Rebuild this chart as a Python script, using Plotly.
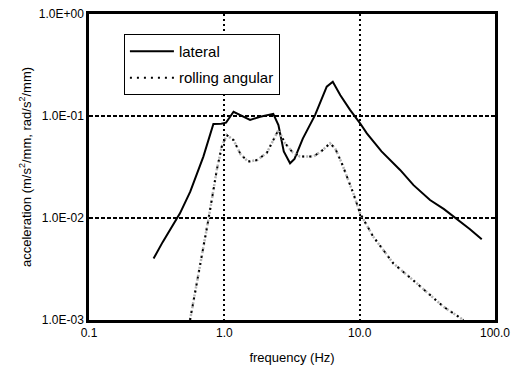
import plotly.graph_objects as go

# lateral acceleration (Hz, m/s^2/mm)
lat_f = [0.30, 0.35, 0.47, 0.56, 0.70, 0.83, 0.95, 1.03, 1.17, 1.35, 1.55, 1.84, 2.30, 2.51, 2.75, 3.06, 3.30, 3.80, 4.68, 5.71, 6.33, 7.20, 8.49, 10.07, 11.3, 14.5, 19.9, 25.0, 33.1, 42.0, 52.3, 65.0, 79.8]
lat_a = [0.0040, 0.0058, 0.0111, 0.0181, 0.040, 0.0835, 0.0840, 0.0860, 0.110, 0.100, 0.0914, 0.0984, 0.105, 0.0816, 0.045, 0.0344, 0.038, 0.060, 0.102, 0.194, 0.217, 0.160, 0.115, 0.0848, 0.0676, 0.045, 0.0296, 0.021, 0.0150, 0.0122, 0.0098, 0.0078, 0.0062]

# rolling angular acceleration (Hz, rad/s^2/mm)
rol_f = [0.558, 0.62, 0.681, 0.762, 0.82, 0.879, 0.957, 1.04, 1.17, 1.32, 1.50, 1.75, 2.06, 2.30, 2.51, 2.81, 3.20, 3.62, 4.55, 5.30, 6.04, 6.60, 7.38, 8.97, 10.07, 12.6, 17.7, 26.4, 41.6, 58.4]
rol_a = [0.0010, 0.0021, 0.0043, 0.0096, 0.0170, 0.0295, 0.050, 0.0651, 0.0580, 0.042, 0.0357, 0.037, 0.0435, 0.058, 0.0729, 0.054, 0.044, 0.040, 0.040, 0.046, 0.054, 0.048, 0.0344, 0.0175, 0.0111, 0.00656, 0.0036, 0.00229, 0.00135, 0.0010]

x_ticks = [0.1, 1, 10, 100]
x_labels = ["0.1", "1.0", "10.0", "100.0"]
y_ticks = [0.001, 0.01, 0.1, 1]
y_labels = ["1.0E-03", "1.0E-02", "1.0E-01", "1.0E+00"]

font = "Liberation Sans, Arial, sans-serif"

fig = go.Figure()
fig.add_trace(go.Scatter(x=lat_f, y=lat_a, mode="lines", name="lateral",
                         line=dict(color="black", width=2), legendgroup="a"))
fig.add_trace(go.Scatter(x=rol_f, y=rol_a, mode="lines", name="rolling angular",
                         line=dict(color="#b4b4b4", width=2.5, dash="2px,2px"),
                         legendgroup="b", showlegend=False))
fig.add_trace(go.Scatter(x=rol_f, y=rol_a, mode="lines", name="rolling angular",
                         line=dict(color="black", width=2, dash="2px,5px"),
                         legendgroup="b"))

axis_common = dict(
    type="log", showline=True, linecolor="black", linewidth=2.5, mirror=True,
    showgrid=True, gridcolor="black", gridwidth=2,
    ticks="", zeroline=False, automargin=False, ticklabeloverflow="allow",
    tickfont=dict(family=font, size=12, color="black"),
)

# page body has an 8px default margin, so the figure is offset by 8px
fig.update_layout(
    width=505, height=361,
    margin=dict(l=81, r=18, t=6, b=49),
    paper_bgcolor="white", plot_bgcolor="white",
    font=dict(family=font, color="black"),
    xaxis=dict(axis_common, range=[-1, 2], tickvals=x_ticks, ticktext=x_labels,
               griddash="2px,3px",
               title=dict(text="frequency (Hz)", font=dict(size=13), standoff=14)),
    yaxis=dict(axis_common, range=[-3, 0], tickvals=y_ticks, ticktext=y_labels,
               griddash="4px,2px",
               title=dict(text="acceleration (m/s<sup>2</sup>/mm, rad/s<sup>2</sup>/mm)",
                          font=dict(size=13), standoff=5)),
    legend=dict(x=0.086, y=0.935, xanchor="left", yanchor="top",
                bordercolor="black", borderwidth=1, bgcolor="white",
                font=dict(family=font, size=15, color="black"),
                itemwidth=44, tracegroupgap=4),
    showlegend=True,
)

fig.write_html("out.html")
